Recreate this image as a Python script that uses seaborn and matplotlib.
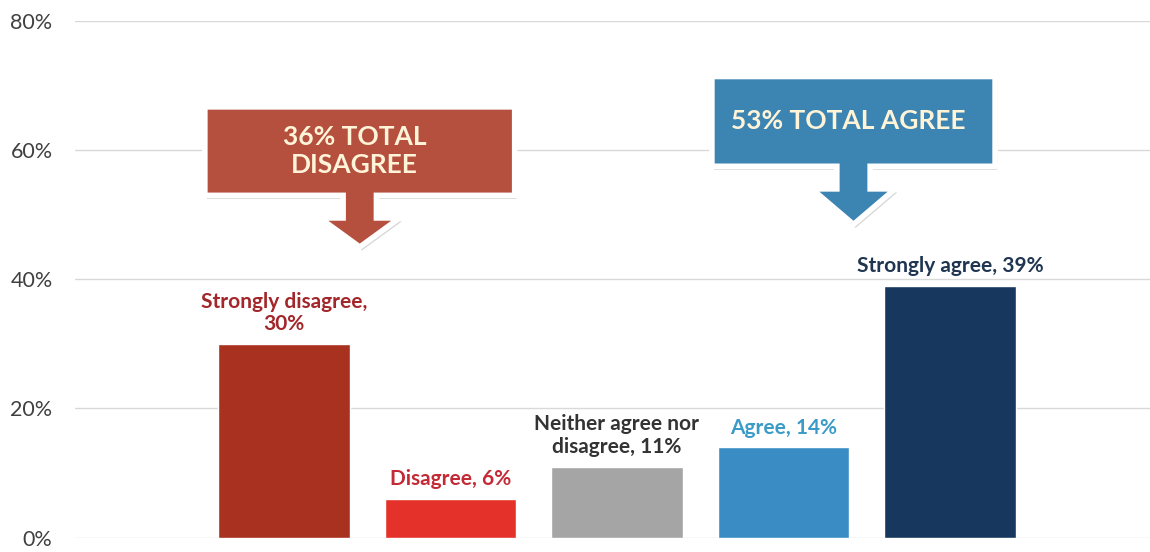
import numpy as np
import pandas as pd
import matplotlib
matplotlib.use("Agg")
import matplotlib.pyplot as plt
import matplotlib.patheffects as pe
from matplotlib.patches import Polygon
import seaborn as sns

# Données du graphique
categories = ["Strongly disagree", "Disagree", "Neither agree nor disagree", "Agree", "Strongly agree"]
valeurs = [30, 6, 11, 14, 39]
etiquettes = ["Strongly disagree,\n30%", "Disagree, 6%", "Neither agree nor\ndisagree, 11%", "Agree, 14%", "Strongly agree, 39%"]
couleurs = ["#A8311F", "#E4322A", "#A5A5A5", "#3A8DC4", "#17375E"]
couleurs_txt = ["#A3262A", "#C42A36", "#333333", "#3A9AC8", "#1F3550"]
yticks = [0, 20, 40, 60, 80]
ytick_labels = ["0%", "20%", "40%", "60%", "80%"]
total_desaccord = "36% TOTAL\nDISAGREE"
total_accord = "53% TOTAL AGREE"

sns.set_style("white")
plt.rcParams['font.family'] = ['Lato', 'DejaVu Sans']

df = pd.DataFrame({"cat": categories, "val": valeurs})

fig = plt.figure(figsize=(11.5, 5.52), dpi=100)
ax = fig.add_axes([0.065, 0.026, 0.935, 0.936])
sns.barplot(data=df, x="cat", y="val", hue="cat", palette=couleurs, width=0.79,
            legend=False, ax=ax, zorder=3, saturation=1)

ax.set_ylim(0, 80)
ax.set_xlim(-1.255, 5.2)
ax.set_yticks(yticks)
ax.set_yticklabels(ytick_labels, fontsize=15.5, color="#404040")
ax.tick_params(axis="y", length=0, pad=16)
ax.set_xticks([])
ax.set_xlabel("")
ax.set_ylabel("")
for s in ax.spines.values():
    s.set_visible(False)
ax.grid(axis="y", color="#D9D9D9", linewidth=1, zorder=0)

for i, (v, lab) in enumerate(zip(valeurs, etiquettes)):
    ax.annotate(lab, (i, v), xytext=(0, 7), textcoords="offset points",
                ha="center", va="bottom", fontsize=15, fontweight="bold",
                color=couleurs_txt[i], linespacing=1.15)


def bulle(cx, bas, haut, demi, tige, aile, pointe, couleur, texte):
    # rectangle + tige + flèche vers le bas
    pts = [(cx - demi, haut), (cx + demi, haut), (cx + demi, bas),
           (cx + tige, bas), (cx + tige, bas - 3.5), (cx + aile, bas - 3.5),
           (0, 0), (cx - aile, bas - 3.5), (cx - tige, bas - 3.5),
           (cx - tige, bas), (cx - demi, bas)]
    pts[6] = (cx, pointe)
    poly = Polygon(pts, closed=True, facecolor=couleur, edgecolor="white",
                   linewidth=4, zorder=5, joinstyle="miter",
                   path_effects=[pe.SimplePatchShadow(offset=(1.5, -2.5), alpha=0.25, shadow_rgbFace="#555555"), pe.Normal()])
    ax.add_patch(poly)
    ax.text(cx - 0.03, (bas + haut) / 2, texte, ha="center", va="center",
            fontsize=19, fontweight="bold", color="#FFF4D8", zorder=6, linespacing=1.2)


bulle(0.456, 53.0, 66.7, 0.93, 0.1, 0.24, 45.0, "#B5503F", total_desaccord)
bulle(3.42, 57.5, 71.4, 0.85, 0.1, 0.25, 48.5, "#3C84B2", total_accord)

fig.savefig("out.png", dpi=100)
